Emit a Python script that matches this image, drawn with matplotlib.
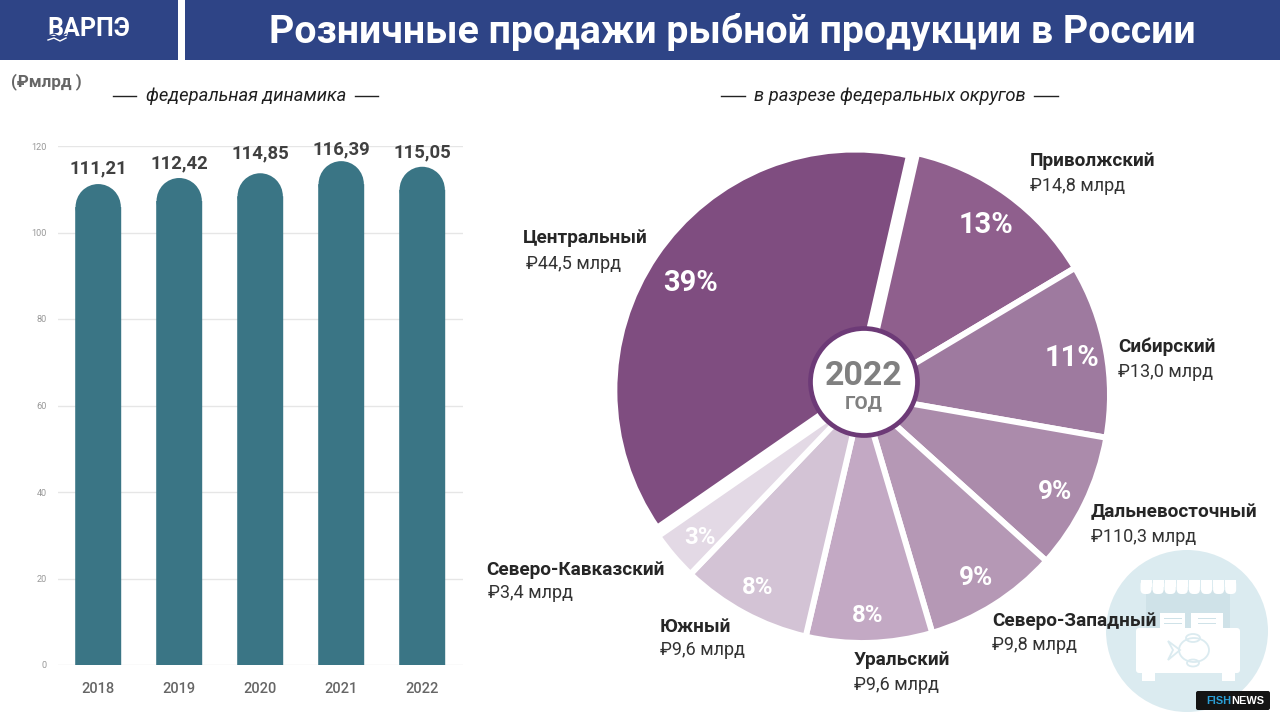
import matplotlib
matplotlib.use("Agg")
import matplotlib.pyplot as plt
from matplotlib.patches import Rectangle, Circle, Ellipse, FancyBboxPatch, Polygon

years = ["2018", "2019", "2020", "2021", "2022"]
# heights as drawn, they differ a bit from the printed labels
bar_heights = [111.2, 112.6, 113.7, 116.5, 115.2]
sales_text = ["111,21", "112,42", "114,85", "116,39", "115,05"]
y_ticks = [0, 20, 40, 60, 80, 100, 120]

# federal districts, order is clockwise from the big slice
districts = ["Центральный", "Приволжский", "Сибирский", "Дальневосточный",
             "Северо-Западный", "Уральский", "Южный", "Северо-Кавказский"]
amounts = ["₽44,5 млрд", "₽14,8 млрд", "₽13,0 млрд", "₽110,3 млрд",
           "₽9,8 млрд", "₽9,6 млрд", "₽9,6 млрд", "₽3,4 млрд"]
percents = ["39%", "13%", "11%", "9%", "9%", "8%", "8%", "3%"]
# slice sizes as measured on the picture
shares = [38.15, 12.85, 11.3, 8.9, 8.75, 8.2, 8.5, 3.2]
pie_colors = ["#7f4d80", "#8f5f8d", "#9e7a9f", "#ab8bab",
              "#b598b5", "#c3a9c4", "#d3c3d5", "#e3d9e5"]

ROB = ["Roboto", "DejaVu Sans"]

fig = plt.figure(figsize=(12.8, 7.2), dpi=100, facecolor="white")

# overlay in pixels, y goes up so the pie keeps its direction
ov = fig.add_axes([0, 0, 1, 1])
ov.set_axis_off()


def py(y):
    return 720 - y


def txt(x, y, s, px, **kw):
    kw.setdefault("family", ROB)
    kw.setdefault("va", "center")
    ov.text(x, py(y), s, fontsize=px * 0.72, **kw)


def rect(x0, y0, x1, y1, c, z=1):
    ov.add_patch(Rectangle((x0, py(y1)), x1 - x0, y1 - y0, fc=c, ec="none", zorder=z))


# watermark
WM = "#dbebf0"
ov.add_patch(Circle((1187, py(631)), 81, fc=WM, ec="none", zorder=0))
rect(1146, 590, 1230, 630, "#cfe2e8", 0.1)
for i in range(8):
    x0 = 1140.5 + i * 12.1
    ov.add_patch(FancyBboxPatch((x0, py(594)), 11, 14, boxstyle="round,pad=0,rounding_size=4.5",
                                fc="white", ec="none", zorder=0.2))
    rect(x0, 580, x0 + 11, 587, "white", 0.2)
rect(1160, 613, 1185, 628, "white", 0.2)
rect(1191, 613, 1223, 628, "white", 0.2)
for yy in (618, 623):
    rect(1198, yy, 1216, yy + 1, "#cfe2e8", 0.3)
    rect(1164, yy, 1182, yy + 1, "#cfe2e8", 0.3)
ov.add_patch(FancyBboxPatch((1136, py(673)), 104, 45, boxstyle="round,pad=0,rounding_size=3",
                            fc="white", ec="none", zorder=0.2))
rect(1142, 673, 1155, 681, "white", 0.2)
rect(1222, 673, 1235, 681, "white", 0.2)
ov.add_patch(Ellipse((1194, py(650)), 30, 24, fc="none", ec=WM, lw=1.3, zorder=0.3))
ov.add_patch(Ellipse((1193, py(638)), 14, 8, fc="none", ec=WM, lw=1.3, zorder=0.3))
ov.add_patch(Ellipse((1193, py(663)), 12, 7, fc="none", ec=WM, lw=1.3, zorder=0.3))
ov.add_patch(Polygon([(1180, py(650)), (1168, py(641)), (1173, py(650)), (1168, py(660))],
                     closed=True, fc="none", ec=WM, lw=1.3, zorder=0.3))

# pie
wedges, _ = ov.pie(shares, colors=pie_colors, startangle=214.7, counterclock=False,
                   center=(862, py(395)), radius=248, explode=[8, 0, 0, 0, 0, 0, 0, 0],
                   wedgeprops=dict(edgecolor="white", linewidth=4.3), frame=False)
wedges[0].set_radius(241)
ov.set_xlim(0, 1280)
ov.set_ylim(0, 720)
ov.set_aspect("auto")

# center badge
ov.add_patch(Circle((864, py(382)), 53.5, fc="white", ec="#6d3a77", lw=3.4, zorder=5))
txt(864, 376, "2022", 34, color="#808080", ha="center", weight="bold", zorder=6)
txt(864, 403, "ГОД", 19, color="#808080", ha="center", weight="bold", zorder=6)

pct_xy = [(691, 283), (986, 225), (1072, 358), (1055, 492), (976, 578), (868, 616), (758, 588), (700, 538)]
pct_size = [29, 29, 29, 26, 26, 24, 24, 24]
for (x, y), s, px in zip(pct_xy, percents, pct_size):
    txt(x, y, s, px, color="white", ha="center", weight="bold", zorder=4)

name_xy = [(523, 238), (1030, 161), (1118, 347), (1091, 512), (992, 621), (854, 660), (660, 627), (486, 570)]
amt_xy = [(526, 264), (1030, 186), (1118, 372), (1091, 537), (992, 645), (854, 685), (660, 650), (488, 593)]
for (x, y), s in zip(name_xy, districts):
    txt(x, y, s, 19, color="#262626", weight="bold", zorder=7)
for (x, y), s in zip(amt_xy, amounts):
    txt(x, y, s, 18, color="#333333", zorder=7)

# header
rect(0, 0, 178, 60, "#2e4486", 2)
rect(185, 0, 1280, 60, "#2e4486", 2)
txt(732, 32, "Розничные продажи рыбной продукции в России", 39.3, color="white",
    ha="center", weight="bold", zorder=3)
txt(89, 29, "ВАРПЭ", 25, color="white", ha="center", weight="bold", zorder=3)
# waves across the logo
ov.plot([48, 54, 60, 66], [py(36), py(34), py(37), py(34)], color="#2e4486", lw=1, zorder=4)
ov.plot([48, 54, 60, 66], [py(40), py(38), py(41), py(38)], color="white", lw=1, zorder=4)

txt(11, 82, "(₽млрд )", 17, color="#666666", weight="bold", zorder=3)
txt(246, 96, "федеральная динамика", 18.4, style="italic", color="#1f1f1f", ha="center")
txt(890, 96, "в разрезе федеральных округов", 18.4, style="italic", color="#1f1f1f", ha="center")
for x0, x1 in [(113, 136), (355, 378), (721, 745), (1034, 1058)]:
    ov.plot([x0, x1], [py(96), py(96)], color="#222222", lw=1)

# stamp
ov.add_patch(FancyBboxPatch((1196, py(710)), 74, 19, boxstyle="round,pad=0,rounding_size=2",
                            fc="#141414", ec="none", zorder=8))
txt(1206, 700.5, "FISH", 11, family=["Liberation Sans"], color="#2a9fd6", weight="bold", zorder=9)
txt(1231, 700.5, "NEWS", 11, family=["Liberation Sans"], color="white", weight="bold", zorder=9)

# bars
ax = fig.add_axes([57.7 / 1280, py(665) / 720, 405 / 1280, 519 / 720], facecolor="none")
ax.set_xlim(-0.5, 4.5)
ax.set_ylim(0, 120)
cap_h = 23 / (519 / 120)
bar_w = 46 / 81
label_gap = [16, 15, 20, 12, 14]
for i, v in enumerate(bar_heights):
    b = ax.bar(i, v - cap_h, width=bar_w, color="#3a7585", zorder=3)
    b[0].set_snap(False)
    ax.add_patch(Ellipse((i, v - cap_h), bar_w * 0.985, 2 * cap_h, fc="#3a7585", ec="none", zorder=3))
    ax.annotate(sales_text[i], (i, v), xytext=(0, label_gap[i]), textcoords="offset pixels", ha="center",
                va="center", fontsize=18.5 * 0.72, family=ROB, weight="bold", color="#404040",
                annotation_clip=False, zorder=4)
ax.set_yticks(y_ticks)
ax.set_xticks(range(len(years)))
ax.set_xticklabels(years)
ax.grid(axis="y", color="#e6e6e6", lw=1)
ax.set_axisbelow(True)
for s in ax.spines.values():
    s.set_visible(False)
ax.tick_params(axis="y", length=0, pad=8, labelsize=6.6, labelcolor="#999999")
ax.tick_params(axis="x", length=0, pad=12, labelsize=10.5, labelcolor="#666666")
for lb in ax.get_xticklabels() + ax.get_yticklabels():
    lb.set_family(ROB)
for lb in ax.get_xticklabels():
    lb.set_weight("medium")

fig.savefig("out.png", dpi=100)
